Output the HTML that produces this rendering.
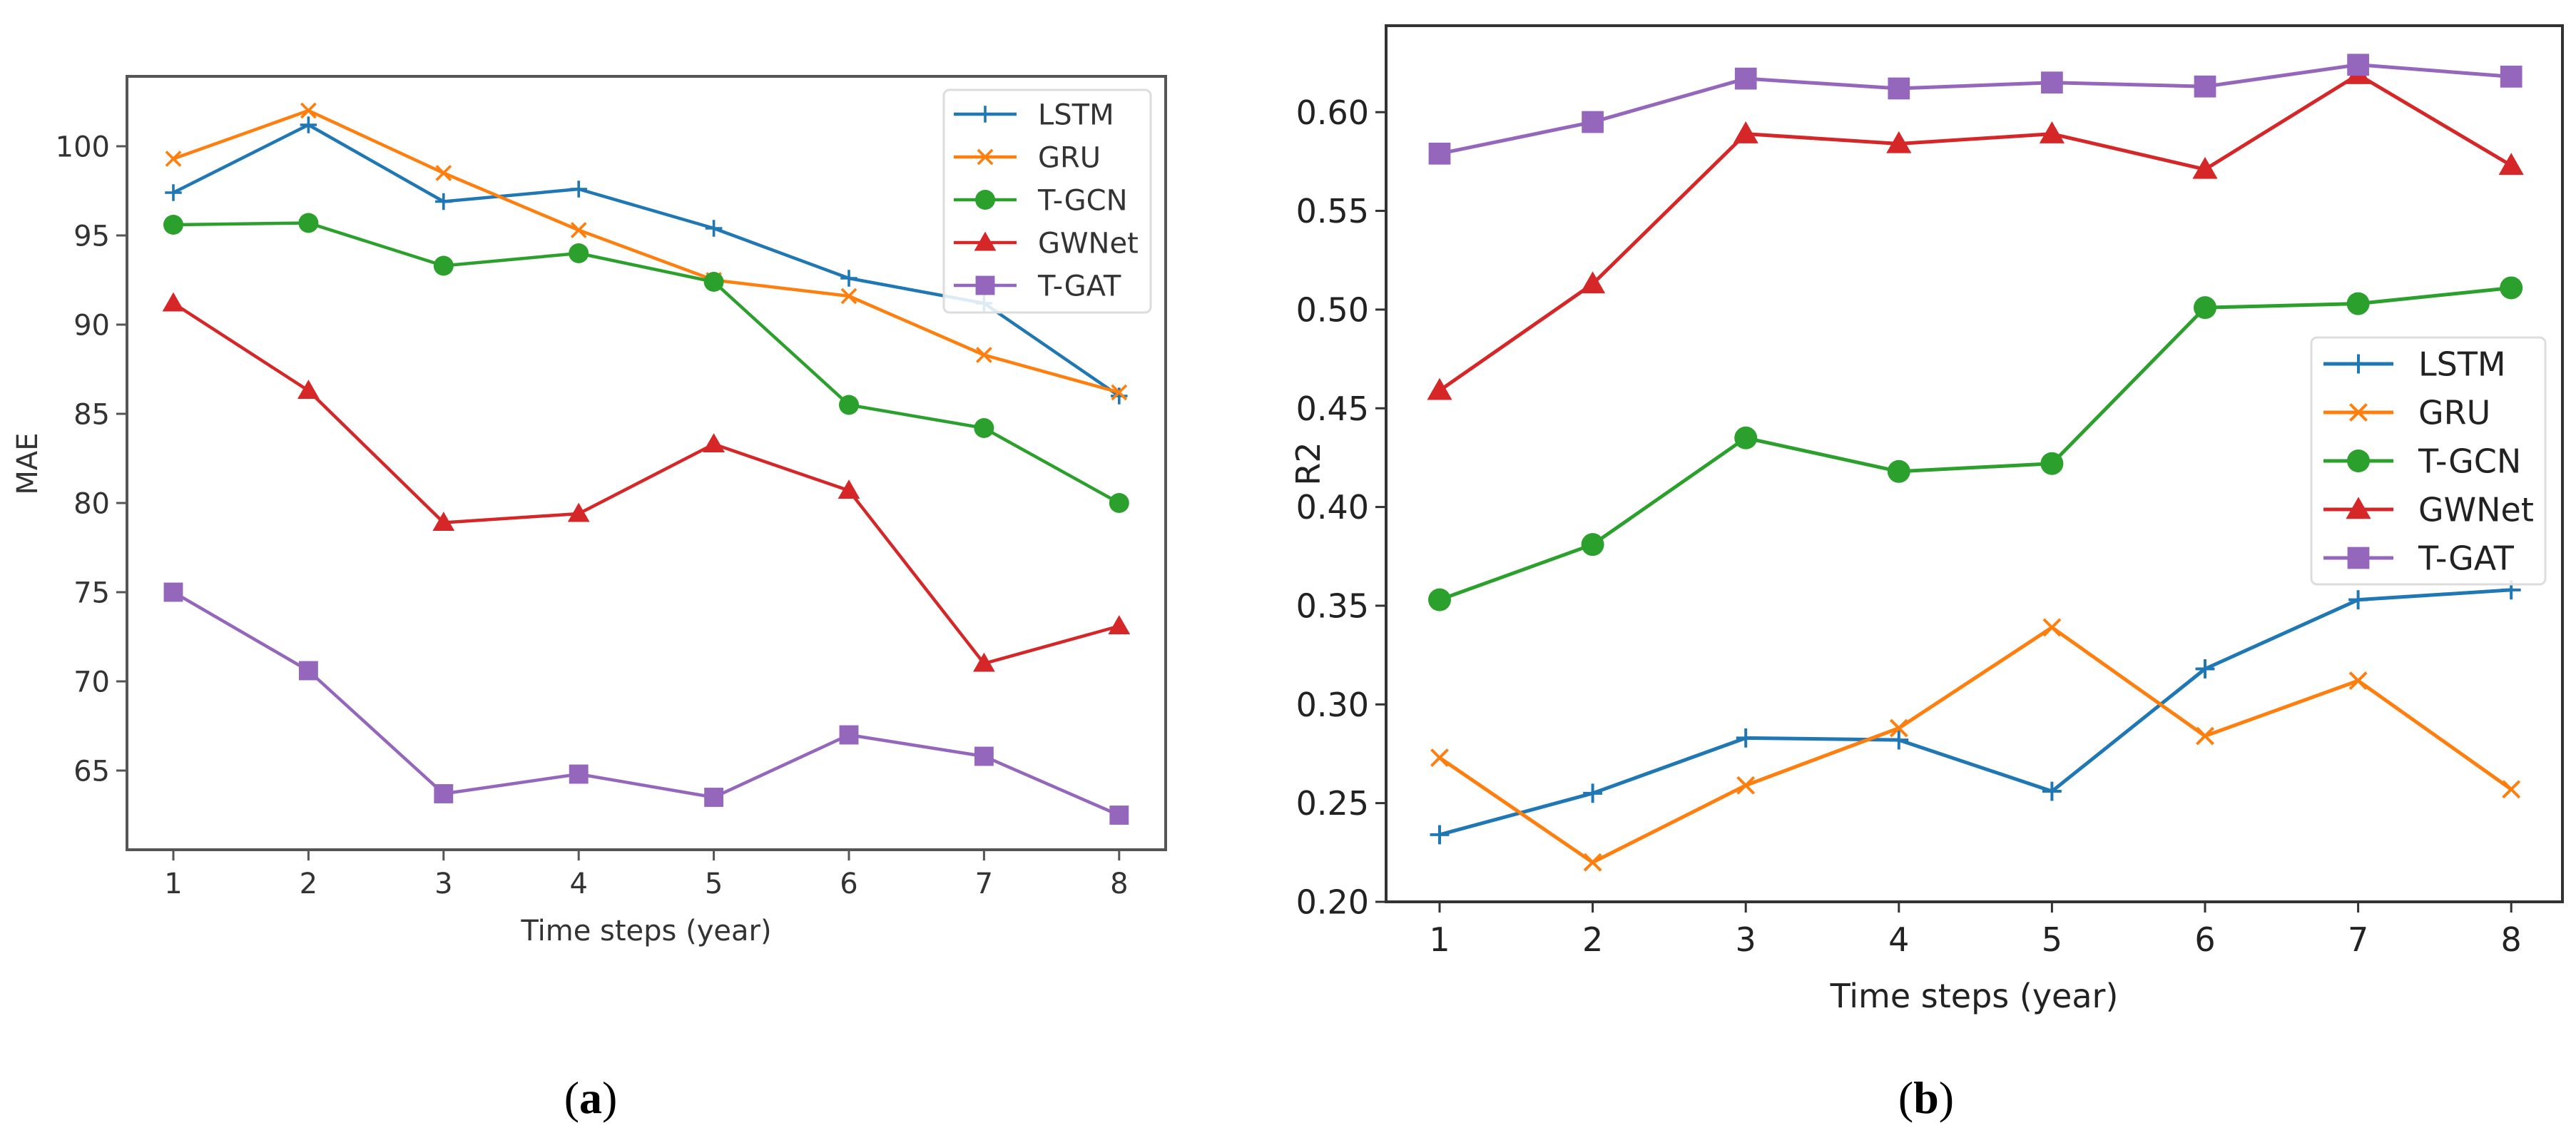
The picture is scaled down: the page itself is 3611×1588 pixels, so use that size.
<!DOCTYPE html>
<html><head><meta charset="utf-8"><style>
html,body{margin:0;padding:0;background:#fff;}
svg{display:block;font-family:"DejaVu Sans","Liberation Sans",sans-serif;}
</style></head><body>
<svg id="fig" width="3611" height="1588" viewBox="0 0 3611 1588" xmlns="http://www.w3.org/2000/svg">
<rect width="3611" height="1588" fill="#fff"/>
</svg>
<script>
const steps = [1,2,3,4,5,6,7,8];
const seriesNames = ["LSTM","GRU","T-GCN","GWNet","T-GAT"];
const maeLSTM  = [97.4,101.2,96.9,97.6,95.4,92.6,91.2,86.0];
const maeGRU   = [99.3,102.0,98.5,95.3,92.5,91.6,88.3,86.2];
const maeTGCN  = [95.6,95.7,93.3,94.0,92.4,85.5,84.2,80.0];
const maeGWNet = [91.2,86.3,78.9,79.4,83.3,80.7,71.0,73.1];
const maeTGAT  = [75.0,70.6,63.7,64.8,63.5,67.0,65.8,62.5];
const r2LSTM  = [0.234,0.255,0.283,0.282,0.256,0.318,0.353,0.358];
const r2GRU   = [0.273,0.220,0.259,0.288,0.339,0.284,0.312,0.257];
const r2TGCN  = [0.353,0.381,0.435,0.418,0.422,0.501,0.503,0.511];
const r2GWNet = [0.459,0.513,0.589,0.584,0.589,0.571,0.619,0.573];
const r2TGAT  = [0.579,0.595,0.617,0.612,0.615,0.613,0.624,0.618];
const maeTicks = [65,70,75,80,85,90,95,100];
const r2Ticks = [0.20,0.25,0.30,0.35,0.40,0.45,0.50,0.55,0.60];

const NS="http://www.w3.org/2000/svg";
const svg=document.getElementById('fig');
const colors=["#1f77b4","#ff7f0e","#2ca02c","#d62728","#9467bd"];
const markers=["plus","x","circle","tri","square"];
function el(tag,attrs,parent){const e=document.createElementNS(NS,tag);for(const k in attrs)e.setAttribute(k,attrs[k]);(parent||svg).appendChild(e);return e;}
function marker(g,type,x,y,s,c,lw){
  let m;
  if(type==="circle") m=el('circle',{cx:x,cy:y,r:s*0.5,fill:c},g);
  else if(type==="square") m=el('rect',{x:x-s*0.48,y:y-s*0.48,width:s*0.96,height:s*0.96,fill:c},g);
  else if(type==="tri"){const h=s*0.55;m=el('polygon',{points:`${x},${y-h} ${x+h},${y+h*0.75} ${x-h},${y+h*0.75}`,fill:c},g);}
  else if(type==="plus"){const h=s*0.42;m=el('path',{d:`M${x-h} ${y}H${x+h}M${x} ${y-h}V${y+h}`,stroke:c,'stroke-width':lw*0.8,fill:'none'},g);}
  else {const h=s*0.36;m=el('path',{d:`M${x-h} ${y-h}L${x+h} ${y+h}M${x-h} ${y+h}L${x+h} ${y-h}`,stroke:c,'stroke-width':lw*0.8,fill:'none'},g);}
  
  
}
function panel(cfg){
  const g=el('g',{});
  
  
  const X=v=>cfg.x1+(v-1)*cfg.dx;
  const Y=v=>cfg.y0-(v-cfg.v0)*cfg.k;
  cfg.yticks.forEach(t=>{
    const y=Y(t);
    const tk=el('line',{x1:cfg.L-15,x2:cfg.L,y1:y,y2:y,stroke:cfg.ax,'stroke-width':3},g);
    
    const tx=el('text',{x:cfg.L-24,y:y+cfg.fs*0.36,'font-size':cfg.fs,'text-anchor':'end',fill:cfg.tc},g);
    tx.textContent=cfg.fmt(t);
    
  });
  steps.forEach(s=>{
    const x=X(s);
    const tk=el('line',{x1:x,x2:x,y1:cfg.B,y2:cfg.B+15,stroke:cfg.ax,'stroke-width':3},g);
    
    const tx=el('text',{x:x,y:cfg.xtb,'font-size':cfg.fs,'text-anchor':'middle',fill:cfg.tc},g);
    tx.textContent=String(s);
    
  });
  cfg.data.forEach((d,i)=>{
    const pts=d.map((v,j)=>X(steps[j])+','+Y(v)).join(' ');
    const pl=el('polyline',{points:pts,fill:'none',stroke:colors[i],'stroke-width':cfg.lw,'stroke-linejoin':'round'},g);
    
    
    d.forEach((v,j)=>marker(g,markers[i],X(steps[j]),Y(v),cfg.ms,colors[i],cfg.lw));
  });
  const fr=el('rect',{x:cfg.L,y:cfg.T,width:cfg.R-cfg.L,height:cfg.B-cfg.T,fill:'none',stroke:cfg.ax,'stroke-width':4},g);
  
  const lg=el('g',{},g);
  
  el('rect',{x:cfg.lx,y:cfg.ly,width:cfg.lw2,height:cfg.lh,rx:8,fill:'#fff','fill-opacity':0.85,stroke:'#ddd','stroke-width':3},lg);
  seriesNames.forEach((n,i)=>{
    const y=cfg.le0+i*cfg.ls;
    const e=el('g',{},lg);
    
    
    el('line',{x1:cfg.hx,x2:cfg.hx+cfg.hw,y1:y,y2:y,stroke:colors[i],'stroke-width':cfg.lw},e);
    marker(e,markers[i],cfg.hx+cfg.hw/2,y,cfg.ms,colors[i],cfg.lw);
    const t=el('text',{x:cfg.tx,y:y+cfg.fs*0.36,'font-size':cfg.lfs,fill:cfg.tc},e);
    t.textContent=n;
  });
  const xl=el('text',{x:(cfg.L+cfg.R)/2,y:cfg.xlb,'font-size':cfg.xfs,'text-anchor':'middle',fill:cfg.tc},g);
  xl.textContent="Time steps (year)";
  
  const yl=el('text',{x:cfg.ylx,y:cfg.yly,'font-size':cfg.xfs,'text-anchor':'middle',fill:cfg.tc,transform:`rotate(-90 ${cfg.ylx} ${cfg.yly})`},g);
  yl.textContent=cfg.ylab;
  
  const cap=el('text',{x:cfg.capx,y:1560,'font-size':64,'text-anchor':'middle',fill:'#000','font-family':'Liberation Serif, serif'},g);
  cap.innerHTML='(<tspan font-weight="bold">'+cfg.cap+'</tspan>)';
  
}
panel({name:'mae-chart',L:178,R:1634,T:107,B:1191,x1:243,dx:189.4,v0:100,y0:205,k:25,
  yticks:maeTicks,fmt:v=>String(v),fs:40,lfs:40,xfs:40,ax:'#555',tc:'#333',lw:4.5,ms:28,
  xtb:1252,xlb:1318,ylx:52,yly:650,ylab:'MAE',
  data:[maeLSTM,maeGRU,maeTGCN,maeGWNet,maeTGAT],
  lx:1323,ly:126,lw2:290,lh:312,le0:160,ls:60,hx:1337,hw:88,tx:1455,capx:828,cap:'a'});
panel({name:'r2-chart',L:1943,R:3592,T:36,B:1264,x1:2018,dx:214.6,v0:0.20,y0:1264,k:2767,
  yticks:r2Ticks,fmt:v=>v.toFixed(2),fs:46,lfs:46,xfs:46,ax:'#333',tc:'#222',lw:5,ms:32,
  xtb:1333,xlb:1412,ylx:1850,yly:650,ylab:'R2',
  data:[r2LSTM,r2GRU,r2TGCN,r2GWNet,r2TGAT],
  lx:3240,ly:473,lw2:328,lh:346,le0:510,ls:68,hx:3257,hw:98,tx:3390,capx:2700,cap:'b'});
</script>
</body></html>
